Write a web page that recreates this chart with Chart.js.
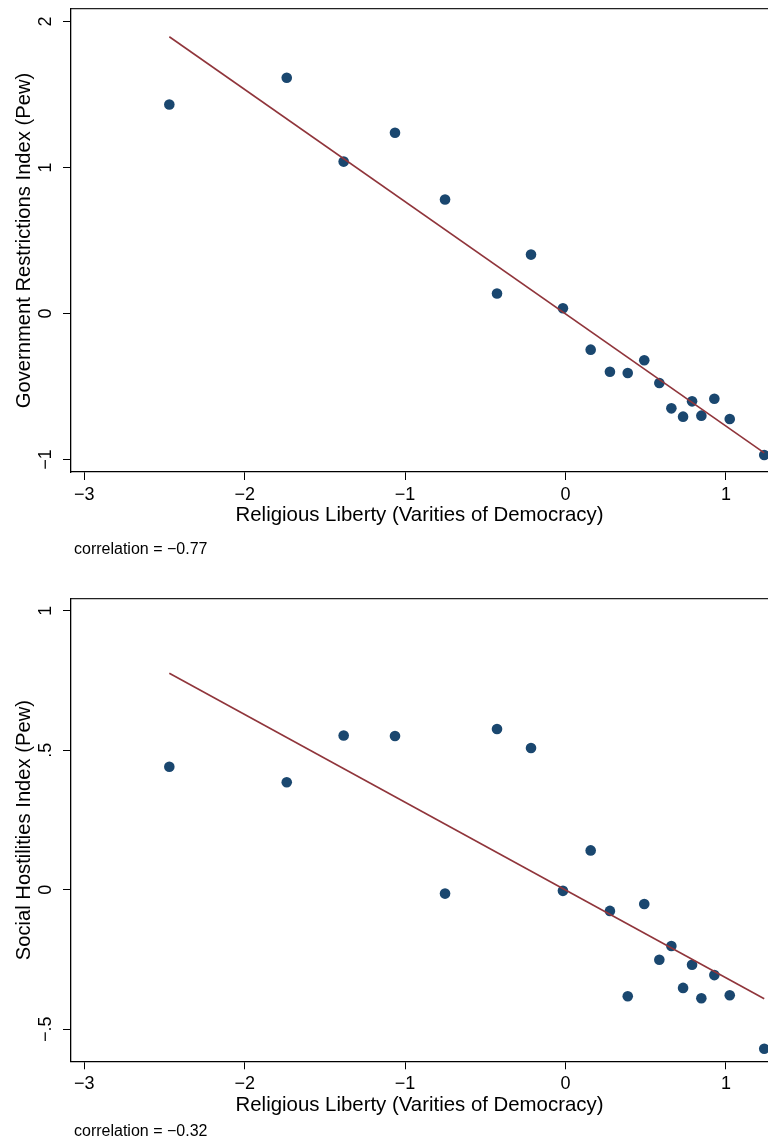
<!DOCTYPE html>
<html><head><meta charset="utf-8">
<script src="https://cdn.jsdelivr.net/npm/chart.js@4"></script>
<style>
html,body{margin:0;padding:0;background:#fff;overflow:hidden;width:768px;height:1139px;}
.wrap{position:absolute;left:0;width:768px;}
canvas{display:block;}
</style></head><body>
<div class="wrap" style="top:0;height:590px"><canvas id="c1" width="768" height="590"></canvas></div>
<div class="wrap" style="top:590px;height:549px"><canvas id="c2" width="768" height="549"></canvas></div>
<script>
// ---- data ----
const libertyX = [-2.470,-1.738,-1.383,-1.063,-0.751,-0.427,-0.215,-0.016,0.157,0.277,0.388,0.491,0.585,0.660,0.733,0.789,0.847,0.928,1.024,1.239];
const govRestrictions = [1.431,1.614,1.040,1.237,0.780,0.136,0.403,0.036,-0.248,-0.399,-0.408,-0.321,-0.476,-0.650,-0.707,-0.602,-0.700,-0.584,-0.723,-0.970];
const socialHostilities = [0.441,0.385,0.553,0.551,-0.014,0.576,0.508,-0.004,0.141,-0.076,-0.382,-0.051,-0.251,-0.202,-0.352,-0.269,-0.389,-0.306,-0.378,-0.570];
const fitX = [-2.470, 1.239];
const govFitY = [1.895, -0.955];
const socFitY = [0.776, -0.391];
const xTicks = [-3,-2,-1,0,1];
const govTicks = [-1,0,1,2];
const socTicks = [-0.5,0,0.5,1];
const xTitle = 'Religious Liberty (Varities of Democracy)';
const govTitle = 'Government Restrictions Index (Pew)';
const socTitle = 'Social Hostilities Index (Pew)';
const govNote = 'correlation = \u22120.77';
const socNote = 'correlation = \u22120.32';

// ---- style ----
const FAMILY = '"Liberation Sans", Arial, Helvetica, sans-serif';
const DOT = '#1a476f';
const FIT = '#90353b';
const AX = '#000';
const X_MIN = -3.083, X_MAX = 1.2625;

function fmt(v){
  const a = Math.abs(v);
  let s = (a > 0 && a < 1) ? String(a).replace(/^0/, '') : String(a);
  return (v < 0 ? '\u2212' : '') + s;
}

function makeChart(id, yVals, fitY, yTicks, yMin, yMax, yTitle, note, noteOffset, padBottom, yTickPad){
  const notePlugin = {
    id: 'note',
    afterDraw(chart){
      const ctx = chart.ctx, a = chart.chartArea;
      ctx.save();
      ctx.font = '16px ' + FAMILY;
      ctx.fillStyle = '#000';
      ctx.textAlign = 'left';
      ctx.textBaseline = 'middle';
      ctx.fillText(note, a.left + 3, a.bottom + noteOffset);
      ctx.restore();
    }
  };
  const axisCommon = {
    grid: {display: true, drawOnChartArea: false, drawTicks: true, tickLength: 8, color: AX, lineWidth: 1},
    border: {display: true, color: AX, width: 1.3}
  };
  return new Chart(document.getElementById(id), {
    type: 'scatter',
    data: {
      datasets: [
        {
          type: 'line',
          data: fitX.map((x, i) => ({x, y: fitY[i]})),
          borderColor: FIT, borderWidth: 1.6, pointRadius: 0, fill: false,
          xAxisID: 'x', yAxisID: 'y', order: 0
        },
        {
          data: libertyX.map((x, i) => ({x, y: yVals[i]})),
          backgroundColor: DOT, borderColor: DOT, borderWidth: 0, pointRadius: 5.3,
          xAxisID: 'x', yAxisID: 'y', order: 1
        }
      ]
    },
    options: {
      responsive: false, animation: false, devicePixelRatio: 1,
      layout: {autoPadding: false, padding: {top: 9, left: 0, right: 0, bottom: padBottom}},
      plugins: {legend: {display: false}, tooltip: {enabled: false}},
      scales: {
        x: Object.assign({}, axisCommon, {
          type: 'linear', position: 'bottom', min: X_MIN, max: X_MAX,
          afterBuildTicks: s => { s.ticks = xTicks.map(v => ({value: v})); },
          afterFit: s => { s.height = 60; s.paddingLeft = 0; s.paddingRight = 0; },
          ticks: {font: {family: FAMILY, size: 18}, color: '#000', padding: 4, maxRotation: 0, autoSkip: false, callback: v => fmt(v)},
          title: {display: true, text: xTitle, color: '#000', font: {family: FAMILY, size: 20.4}, padding: {top: 0, bottom: 4}}
        }),
        x2: {
          type: 'linear', position: 'top', min: X_MIN, max: X_MAX,
          afterFit: s => { s.height = 0; s.paddingLeft = 0; s.paddingRight = 0; },
          grid: {display: false, drawTicks: false},
          ticks: {display: false},
          border: {display: true, color: '#222', width: 1.2}
        },
        y: Object.assign({}, axisCommon, {
          type: 'linear', position: 'left', min: yMin, max: yMax,
          afterBuildTicks: s => { s.ticks = yTicks.map(v => ({value: v})); },
          afterFit: s => { s.width = 71; s.paddingTop = 0; s.paddingBottom = 0; },
          ticks: {font: {family: FAMILY, size: 18}, color: '#000', padding: yTickPad, minRotation: 90, maxRotation: 90, crossAlign: 'center', autoSkip: false, callback: v => fmt(v)},
          title: {display: true, text: yTitle, color: '#000', font: {family: FAMILY, size: 20.2}, padding: {top: 12, bottom: 0}}
        })
      }
    },
    plugins: [notePlugin]
  });
}

makeChart('c1', govRestrictions, govFitY, govTicks, -1.086, 2.085, govTitle, govNote, 78, 58, 7);
makeChart('c2', socialHostilities, socFitY, socTicks, -0.615, 1.042, socTitle, socNote, 70, 17.7, 4.7);
</script>
</body></html>
